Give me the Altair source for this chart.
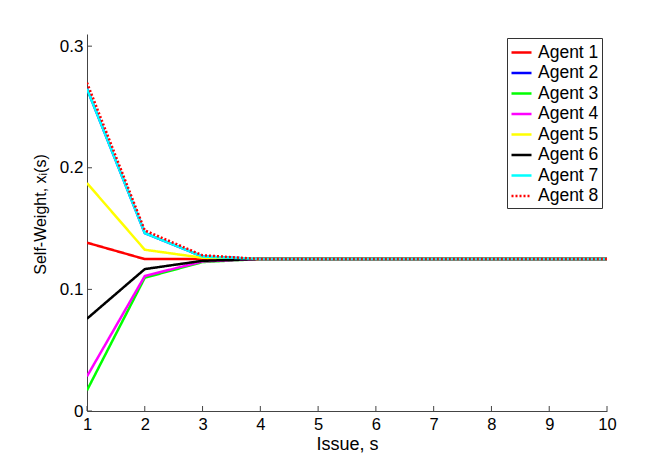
import altair as alt
import pandas as pd

issues = [1, 2, 3, 4, 5, 6, 7, 8, 9, 10]
agents = ["Agent 1", "Agent 2", "Agent 3", "Agent 4", "Agent 5", "Agent 6", "Agent 7", "Agent 8"]
agent1 = [0.1384, 0.1249, 0.1250, 0.125, 0.125, 0.125, 0.125, 0.125, 0.125, 0.125]
agent2 = [0.2650, 0.1463, 0.1270, 0.125, 0.125, 0.125, 0.125, 0.125, 0.125, 0.125]
agent3 = [0.0170, 0.1096, 0.1225, 0.125, 0.125, 0.125, 0.125, 0.125, 0.125, 0.125]
agent4 = [0.0285, 0.1110, 0.1230, 0.125, 0.125, 0.125, 0.125, 0.125, 0.125, 0.125]
agent5 = [0.1874, 0.1326, 0.1260, 0.125, 0.125, 0.125, 0.125, 0.125, 0.125, 0.125]
agent6 = [0.0759, 0.1167, 0.1235, 0.125, 0.125, 0.125, 0.125, 0.125, 0.125, 0.125]
agent7 = [0.2650, 0.1463, 0.1270, 0.125, 0.125, 0.125, 0.125, 0.125, 0.125, 0.125]
agent8 = [0.2700, 0.1485, 0.1280, 0.125, 0.125, 0.125, 0.125, 0.125, 0.125, 0.125]
series = [agent1, agent2, agent3, agent4, agent5, agent6, agent7, agent8]
colors = ["#ff0000", "#0000ff", "#00ff00", "#ff00ff", "#ffff00", "#000000", "#00ffff", "#ff0000"]
dashes = [[1, 0]] * 7 + [[2, 2]]
x_ticks = [1, 2, 3, 4, 5, 6, 7, 8, 9, 10]
y_ticks = [0, 0.1, 0.2, 0.3]

rows = []
for name, vals in zip(agents, series):
    for s, v in zip(issues, vals):
        rows.append({"agent": name, "issue": s, "w": v})
df = pd.DataFrame(rows)

W, H = 520, 377
FONT = "Liberation Sans"

xscale = alt.Scale(domain=[1, 10], nice=False, zero=False)
yscale = alt.Scale(domain=[0, 0.31], nice=False)

lines = alt.Chart(df).mark_line(strokeWidth=2.5, clip=True).encode(
    x=alt.X("issue:Q", scale=xscale,
            axis=alt.Axis(title="Issue, s", values=x_ticks, format="d", tickSize=0,
                          labelFontSize=16.5, labelFlush=False, labelPadding=5,
                          titleFontSize=18, titleFontWeight="normal",
                          titleY=38, titleBaseline="alphabetic",
                          grid=False, domainColor="#444444",
                          labelColor="black", titleColor="black", labelFont=FONT, titleFont=FONT)),
    y=alt.Y("w:Q", scale=yscale,
            axis=alt.Axis(title="Self-Weight, xᵢ(s)", values=y_ticks, tickSize=0, labelFontSize=17,
                          labelPadding=4, labelFlush=False,
                          titleFontSize=16, titleFontWeight="normal",
                          titleX=-42, titleY=180, titleBaseline="alphabetic", titleAngle=270,
                          grid=False, domainColor="#444444",
                          labelExpr="datum.value == 0 ? '0' : format(datum.value, '.1f')",
                          labelColor="black", titleColor="black", labelFont=FONT, titleFont=FONT)),
    color=alt.Color("agent:N", scale=alt.Scale(domain=agents, range=colors),
                    legend=alt.Legend(title=None, orient="none", legendX=420, legendY=4,
                                      symbolType="stroke", symbolStrokeWidth=2.5, symbolSize=400,
                                      labelFontSize=17.5, labelFont=FONT, labelColor="black",
                                      rowPadding=0.5, padding=3, strokeColor="#333333",
                                      fillColor="white", labelOffset=5)),
    strokeDash=alt.StrokeDash("agent:N", scale=alt.Scale(domain=agents, range=dashes)),
    order=alt.Order("issue:Q"),
)

xt = pd.DataFrame({"t": x_ticks})
yt = pd.DataFrame({"t": y_ticks})
xticks = alt.Chart(xt).mark_rule(color="#444444", strokeWidth=1).encode(
    x=alt.X("t:Q", scale=xscale), y=alt.value(H), y2=alt.value(H - 5))
yticks = alt.Chart(yt).mark_rule(color="#444444", strokeWidth=1).encode(
    y=alt.Y("t:Q", scale=yscale), x=alt.value(0), x2=alt.value(5))

chart = alt.layer(lines, xticks, yticks).properties(
    width=W, height=H,
    autosize=alt.AutoSizeParams(type="none"),
    padding={"left": 79, "top": 26, "right": 49, "bottom": 51},
).configure(background="white").configure_view(stroke=None)

chart.save("out.html", embed_options={"renderer": "svg", "actions": False})
